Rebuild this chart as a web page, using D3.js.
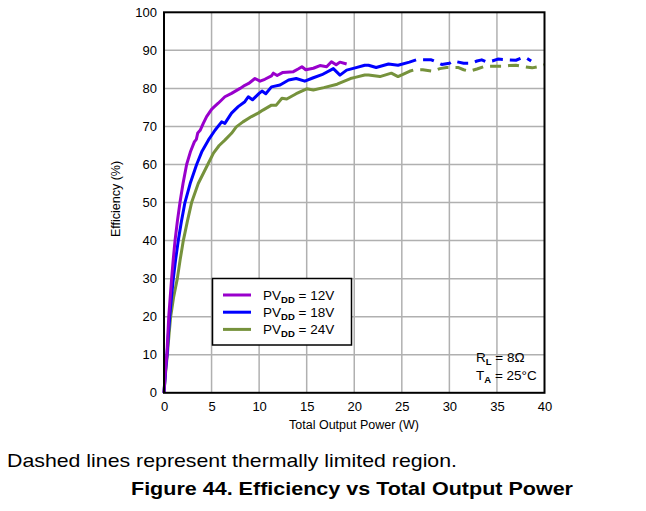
<!DOCTYPE html>
<html><head><meta charset="utf-8">
<script src="https://cdn.jsdelivr.net/npm/d3@7"></script>
<style>body{margin:0;background:#fff}svg{display:block}</style>
</head><body><svg id="c" width="646" height="511"></svg>
<script>
const xTicks = [0,5,10,15,20,25,30,35,40];
const yTicks = [0,10,20,30,40,50,60,70,80,90,100];
const seriesNames = ["12V","18V","24V"];
const seriesColors = ["#9900cc","#0000ff","#76923c"];
const p12Solid = [[0,0],[0.1,4],[0.2,7.5],[0.3,10],[0.4,15],[0.5,20],[0.65,25],[0.8,30],[0.97,35],[1.16,40],[1.4,45],[1.68,50],[2.0,55],[2.38,60],[2.8,63.5],[3.2,66],[3.4,66.6],[3.55,68.3],[3.8,69],[4.13,70.8],[4.48,72.6],[5.0,74.5],[5.3,75.2],[5.7,76.1],[6.4,77.8],[7.1,78.7],[8.0,80],[8.5,80.8],[8.9,81.3],[9.56,82.6],[10.1,81.9],[10.6,82.4],[11.3,83.3],[11.5,84],[11.9,83.4],[12.5,84.2],[13.6,84.4],[14.1,85.1],[14.5,85.7],[14.9,84.9],[15.7,85.3],[16.4,86],[17.1,85.7],[17.6,87],[18.1,86.2],[18.5,86.9],[19.2,86.4]];
const p18Solid = [[0,0],[0.1,3.5],[0.2,7],[0.32,10],[0.45,15],[0.6,20],[0.78,25],[0.98,30],[1.22,35],[1.5,40],[1.83,45],[2.2,50],[2.75,55],[3.43,60],[4.0,63.5],[4.66,66.4],[5.36,69],[6.06,71.2],[6.4,70.8],[7.1,73.5],[7.8,75.2],[8.5,76.5],[8.86,77.8],[9.3,77],[10.0,78.7],[10.3,79.3],[10.7,78.6],[11.3,80.4],[12.2,80.9],[13.1,82.2],[13.9,82.6],[14.8,81.9],[15.7,82.8],[16.6,83.6],[17.8,85.2],[18.5,83.5],[19.2,84.8],[20.1,85.4],[21.1,86.1],[21.5,86.1],[22.3,85.5],[23.6,86.4],[24.6,86.1],[25.8,86.9],[26.5,87.5]];
const p18Dashed = [[26.5,87.5],[28.1,87.5],[29.2,86.3],[30.0,86.6],[30.4,87.2],[31.5,86.6],[32.3,86.6],[32.9,87.2],[33.4,87.5],[33.9,87.0],[34.5,87.2],[35.1,87.7],[36.2,87.5],[37.0,87.4],[37.7,88.1],[38.1,88.0],[38.6,87.2]];
const p24Solid = [[0,0],[0.12,4],[0.23,7],[0.35,10],[0.52,15],[0.7,20],[1.0,25],[1.4,30],[1.7,35],[2.03,40],[2.45,45],[2.9,50],[3.6,55],[4.6,60],[5.2,63],[5.8,65],[6.4,66.4],[7.1,68.2],[7.6,69.9],[8.3,71.2],[9.2,72.6],[9.9,73.5],[10.4,74.3],[11.3,75.6],[11.8,75.6],[12.4,77.4],[12.9,77.2],[13.9,78.6],[15.0,79.9],[15.7,79.6],[16.8,80.2],[18.2,81.1],[19.6,82.6],[20.1,82.9],[21.1,83.5],[21.5,83.5],[22.7,83.1],[23.9,84.0],[24.6,83.1],[25.8,84.5],[26.2,84.8]];
const p24Dashed = [[26.2,84.8],[27.2,84.9],[28.3,84.5],[29.0,85.2],[29.7,85.5],[30.9,85.5],[31.5,84.9],[32.1,84.5],[32.9,85.1],[33.7,85.8],[34.6,85.8],[35.6,85.8],[36.3,86],[37.0,86.1],[37.9,85.7],[38.7,85.4],[39.5,85.8],[40,86.2]];

const svg = d3.select("#c");
const font = "'Liberation Sans', Arial, sans-serif";
const x = d3.scaleLinear().domain([0,40]).range([164,544.5]);
const y = d3.scaleLinear().domain([0,100]).range([392.8,12.3]);

const g = svg.append("g");
g.selectAll(".vg").data(xTicks.slice(1,-1)).enter().append("line")
 .attr("x1",d=>x(d)).attr("x2",d=>x(d)).attr("y1",y(0)).attr("y2",y(100))
 .attr("stroke","#b0b0b0").attr("stroke-width",1.5);
g.selectAll(".hg").data(yTicks.slice(1,-1)).enter().append("line")
 .attr("y1",d=>y(d)).attr("y2",d=>y(d)).attr("x1",x(0)).attr("x2",x(40))
 .attr("stroke","#b0b0b0").attr("stroke-width",1.5);

const xAxis = svg.append("g").attr("transform",`translate(0,${y(0)})`)
 .call(d3.axisBottom(x).tickValues(xTicks).tickSize(0).tickPadding(9));
const yAxis = svg.append("g").attr("transform",`translate(${x(0)},0)`)
 .call(d3.axisLeft(y).tickValues(yTicks).tickSize(0).tickPadding(7));
[xAxis,yAxis].forEach(a=>{a.select(".domain").remove();
 a.selectAll("text").attr("font-family",font).attr("font-size",13).attr("fill","#000");});

const line = d3.line().x(d=>x(d[0])).y(d=>y(d[1]));
const lw = 3;
function draw(data,color,dashed){
  const p = svg.append("path").attr("d",line(data)).attr("fill","none").attr("stroke",color)
   .attr("stroke-width",lw).attr("stroke-linejoin","round");
  if(dashed) p.attr("stroke-dasharray","11,7").attr("stroke-dashoffset",11);
}
draw(p24Solid,seriesColors[2],false);
draw(p24Dashed,seriesColors[2],true);
draw(p18Solid,seriesColors[1],false);
draw(p18Dashed,seriesColors[1],true);
draw(p12Solid,seriesColors[0],false);

svg.append("rect").attr("x",x(0)).attr("y",y(100)).attr("width",x(40)-x(0)).attr("height",y(0)-y(100))
 .attr("fill","none").attr("stroke","#000").attr("stroke-width",2);

const lg = svg.append("g");
lg.append("rect").attr("x",212.5).attr("y",278.5).attr("width",139).attr("height",66.5)
 .attr("fill","#fff").attr("stroke","#000").attr("stroke-width",1.5);
seriesNames.forEach((n,i)=>{
  const yy = 295 + i*17.2;
  lg.append("line").attr("x1",223).attr("x2",251).attr("y1",yy).attr("y2",yy)
    .attr("stroke",seriesColors[i]).attr("stroke-width",3);
  const t = lg.append("text").attr("x",263).attr("y",yy+4.5).attr("font-family",font).attr("font-size",13.5);
  t.append("tspan").text("PV");
  t.append("tspan").attr("font-size",9.5).attr("font-weight","bold").attr("dy",3).text("DD");
  t.append("tspan").attr("dy",-3).text(" = " + n);
});

const a1 = svg.append("text").attr("x",476).attr("y",362).attr("font-family",font).attr("font-size",13.5);
a1.append("tspan").text("R");
a1.append("tspan").attr("font-size",9.5).attr("font-weight","bold").attr("dy",3).text("L");
a1.append("tspan").attr("dy",-3).text(" = 8Ω");
const a2 = svg.append("text").attr("x",476).attr("y",380).attr("font-family",font).attr("font-size",13.5);
a2.append("tspan").text("T");
a2.append("tspan").attr("font-size",9.5).attr("font-weight","bold").attr("dy",3).text("A");
a2.append("tspan").attr("dy",-3).text(" = 25°C");

svg.append("text").attr("x",354).attr("y",429).attr("text-anchor","middle").attr("font-family",font).attr("font-size",12.5).text("Total Output Power (W)");
svg.append("text").attr("transform","translate(120,199) rotate(-90)").attr("text-anchor","middle").attr("font-family",font).attr("font-size",12.5).text("Efficiency (%)");

const nf = "'Liberation Sans Narrow','Arial Narrow','Liberation Sans',sans-serif";
svg.append("text").attr("x",7).attr("y",467).attr("font-family",nf).attr("font-size",19)
 .attr("textLength",450).attr("lengthAdjust","spacingAndGlyphs").text("Dashed lines represent thermally limited region.");
svg.append("text").attr("x",131).attr("y",495).attr("font-family",nf).attr("font-size",19).attr("font-weight","bold")
 .attr("textLength",442).attr("lengthAdjust","spacingAndGlyphs").text("Figure 44. Efficiency vs Total Output Power");
</script></body></html>
